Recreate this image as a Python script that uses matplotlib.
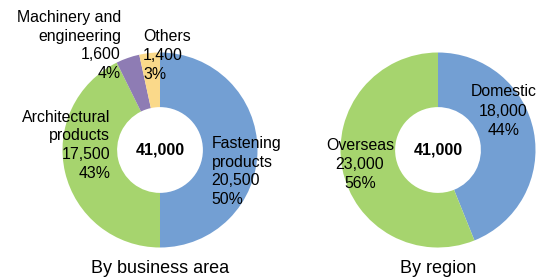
import matplotlib.pyplot as plt

plt.rcParams['font.family'] = ['Liberation Sans', 'DejaVu Sans']

# business area
biz_names = ['Fastening\nproducts', 'Architectural\nproducts', 'Machinery and\nengineering', 'Others']
biz_values = [20500, 17500, 1600, 1400]
biz_pcts = ['50%', '43%', '4%', '3%']

# region
reg_names = ['Domestic', 'Overseas']
reg_values = [18000, 23000]
reg_pcts = ['44%', '56%']

total = '41,000'
blue = '#739fd3'
green = '#a6d46e'
purple = '#8e7cb4'
yellow = '#fad98a'

W, H = 537, 279
R = 97.5
fig = plt.figure(figsize=(W / 100, H / 100), dpi=100)


def donut(cx, cy, values, colors):
    ax = fig.add_axes([(cx - R) / W, (H - cy - R) / H, 2 * R / W, 2 * R / H])
    ax.pie(values, colors=colors, startangle=90, counterclock=False, radius=1,
           wedgeprops=dict(width=0.56, edgecolor='none'))
    ax.set_xlim(-1, 1)
    ax.set_ylim(-1, 1)
    ax.set_aspect('equal')
    ax.axis('off')
    ax.text(0, 0, total, ha='center', va='center', fontsize=11.5, fontweight='bold')
    return ax


def fmt(v):
    return f'{v:,}'


ax1 = donut(160, 150, biz_values, [blue, green, purple, yellow])
fs = 11.4
ls = 1.3
ax1.text(0.53, -0.22, biz_names[0] + '\n' + fmt(biz_values[0]) + '\n' + biz_pcts[0],
         ha='left', va='center', fontsize=fs, linespacing=ls)
ax1.text(-0.51, 0.05, biz_names[1] + '\n' + fmt(biz_values[1]) + '\n' + biz_pcts[1],
         ha='right', va='center', fontsize=fs, linespacing=ls, multialignment='right')
ax1.text(-0.40, 1.07, biz_names[2] + '\n' + fmt(biz_values[2]) + '\n' + biz_pcts[2],
         ha='right', va='center', fontsize=fs, linespacing=ls, multialignment='right')
ax1.text(-0.175, 0.97, biz_names[3] + '\n' + fmt(biz_values[3]) + '\n' + biz_pcts[3],
         ha='left', va='center', fontsize=fs, linespacing=ls)
ax1.text(0, -1.215, 'By business area', ha='center', va='center', fontsize=13)

ax2 = donut(438, 150, reg_values, [blue, green])
ax2.text(0.67, 0.40, reg_names[0] + '\n' + fmt(reg_values[0]) + '\n' + reg_pcts[0],
         ha='center', va='center', fontsize=fs, linespacing=1.35)
ax2.text(-0.80, -0.15, reg_names[1] + '\n' + fmt(reg_values[1]) + '\n' + reg_pcts[1],
         ha='center', va='center', fontsize=fs, linespacing=1.35)
ax2.text(0, -1.215, 'By region', ha='center', va='center', fontsize=13)

fig.savefig('out.png', dpi=100)
